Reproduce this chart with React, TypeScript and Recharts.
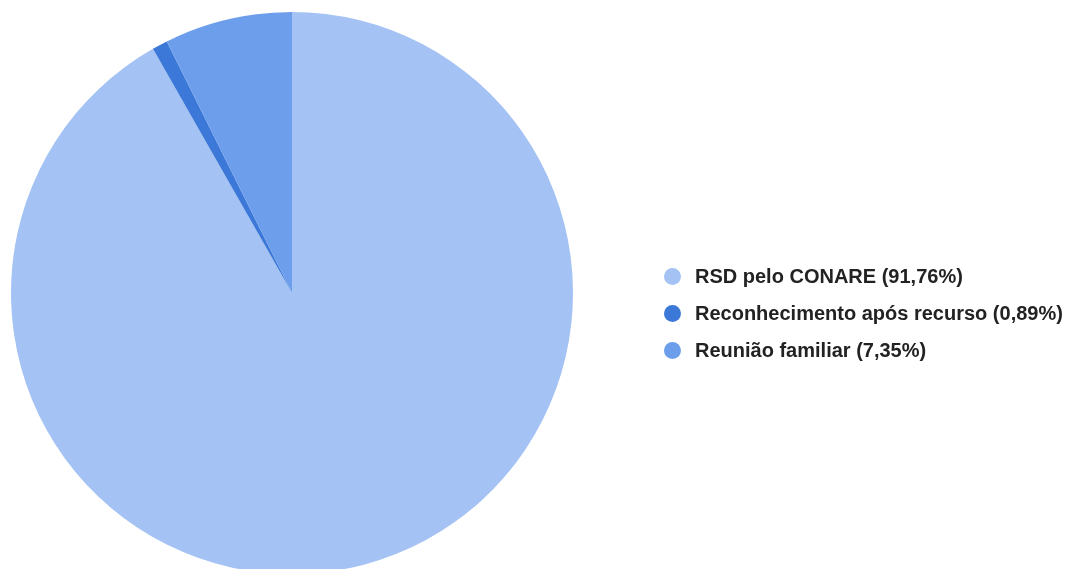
import { Cell, Legend, Pie, PieChart } from 'recharts';

const categories = ['RSD pelo CONARE', 'Reconhecimento após recurso', 'Reunião familiar'];
const shares = [91.76, 0.89, 7.35];
const labels = ['RSD pelo CONARE (91,76%)', 'Reconhecimento após recurso (0,89%)', 'Reunião familiar (7,35%)'];
const COLORS = ['#a4c2f4', '#3c78d8', '#6d9eeb'];

const data = categories.map((name, i) => ({ name, value: shares[i], label: labels[i] }));

function LegendList() {
  return (
    <div style={{ fontFamily: '"Liberation Sans", Arial, sans-serif', fontWeight: 700, fontSize: 20, color: '#222' }}>
      {data.map((d, i) => (
        <div key={d.name} style={{ display: 'flex', alignItems: 'center', height: 37 }}>
          <span
            style={{
              display: 'inline-block',
              width: 17,
              height: 17,
              borderRadius: '50%',
              background: COLORS[i],
              marginRight: 14,
            }}
          />
          <span>{d.label}</span>
        </div>
      ))}
    </div>
  );
}

export default function App() {
  return (
    <div style={{ position: 'fixed', top: 0, left: 0, width: 1071, height: 569, background: '#fff' }}>
      <PieChart width={1071} height={569} margin={{ top: 0, right: 0, bottom: 0, left: 0 }}>
        <Pie
          data={data}
          dataKey="value"
          nameKey="name"
          cx={292}
          cy={293}
          outerRadius={281}
          startAngle={90}
          endAngle={-270}
          stroke="none"
          isAnimationActive={false}
        >
          {data.map((_, idx) => (
            <Cell key={idx} fill={COLORS[idx]} />
          ))}
        </Pie>
        <Legend
          content={() => <LegendList />}
          wrapperStyle={{ left: 664, top: 258, width: 420 }}
        />
      </PieChart>
    </div>
  );
}
